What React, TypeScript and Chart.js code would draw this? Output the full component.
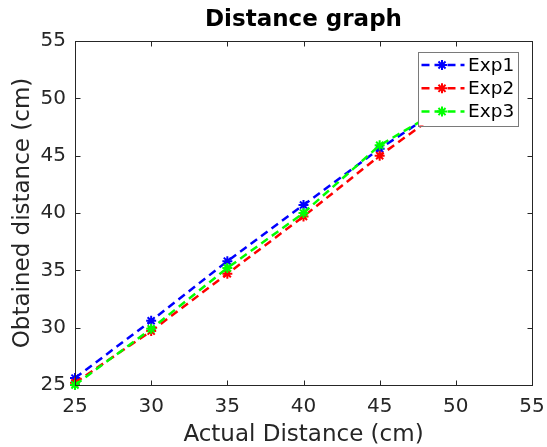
import React, { useEffect, useRef } from "react";
import { Chart, registerables } from "chart.js";

Chart.register(...registerables);

const actualDistance = [25, 30, 35, 40, 45, 50];
const exp1 = [25.6, 30.6, 35.8, 40.7, 45.6, 50.0];
const exp2 = [25.2, 29.7, 34.7, 39.7, 45.0, 49.8];
const exp3 = [25.0, 29.9, 35.2, 40.0, 45.9, 49.8];
const seriesLabels = ["Exp1", "Exp2", "Exp3"];
const seriesColors = ["#0000ff", "#ff0000", "#00ff00"];
const axisMin = 25;
const axisMax = 55;
const tickStep = 5;

const TEXT = "#262626";
const FONT = "'DejaVu Sans', sans-serif";

function drawStar(ctx: CanvasRenderingContext2D, x: number, y: number, r: number) {
  ctx.beginPath();
  ctx.moveTo(x - r, y);
  ctx.lineTo(x + r, y);
  ctx.moveTo(x, y - r);
  ctx.lineTo(x, y + r);
  const d = r * Math.SQRT1_2;
  ctx.moveTo(x - d, y - d);
  ctx.lineTo(x + d, y + d);
  ctx.moveTo(x - d, y + d);
  ctx.lineTo(x + d, y - d);
  ctx.stroke();
}

const boxPlugin = {
  id: "matlabBox",
  afterDatasetsDraw(chart: any) {
    const { ctx, chartArea: a, scales } = chart;
    ctx.save();
    ctx.strokeStyle = TEXT;
    ctx.lineWidth = 1;
    ctx.setLineDash([]);
    const L = Math.round(a.left) + 0.5;
    const R = Math.round(a.right) + 0.5;
    const T = Math.round(a.top) + 0.5;
    const B = Math.round(a.bottom) + 0.5;
    ctx.strokeRect(L, T, R - L, B - T);
    const tl = 5;
    ctx.beginPath();
    scales.x.ticks.forEach((t: any) => {
      const px = Math.round(scales.x.getPixelForValue(t.value)) + 0.5;
      ctx.moveTo(px, B);
      ctx.lineTo(px, B - tl);
      ctx.moveTo(px, T);
      ctx.lineTo(px, T + tl);
    });
    scales.y.ticks.forEach((t: any) => {
      const py = Math.round(scales.y.getPixelForValue(t.value)) + 0.5;
      ctx.moveTo(L, py);
      ctx.lineTo(L + tl, py);
      ctx.moveTo(R, py);
      ctx.lineTo(R - tl, py);
    });
    ctx.stroke();
    ctx.restore();
  },
  afterDraw(chart: any) {
    const { ctx, chartArea: a } = chart;
    const w = 100;
    const h = 74;
    const left = a.right - 14 - w;
    const top = a.top + 10.5;
    ctx.save();
    ctx.fillStyle = "#ffffff";
    ctx.fillRect(left, top, w, h);
    ctx.strokeStyle = "#7a7a7a";
    ctx.lineWidth = 1;
    ctx.strokeRect(Math.round(left) + 0.5, Math.round(top) + 0.5, w, h);
    chart.data.datasets.forEach((ds: any, i: number) => {
      const cy = top + 13.5 + i * 23.3;
      ctx.strokeStyle = ds.borderColor;
      ctx.lineWidth = 2.5;
      ctx.setLineDash([8, 5]);
      ctx.lineDashOffset = 0;
      ctx.beginPath();
      ctx.moveTo(left + 3.5, cy);
      ctx.lineTo(left + 46.5, cy);
      ctx.stroke();
      ctx.setLineDash([]);
      ctx.lineWidth = 2;
      drawStar(ctx, left + 24, cy, 5);
      ctx.fillStyle = "#000000";
      ctx.font = `18.5px ${FONT}`;
      ctx.textAlign = "left";
      ctx.textBaseline = "middle";
      ctx.fillText(ds.label, left + 50, cy + 1);
    });
    ctx.restore();
  },
};

export default function App() {
  const ref = useRef<HTMLCanvasElement | null>(null);
  useEffect(() => {
    if (!ref.current) return;
    const series = [exp1, exp2, exp3];
    const chart = new Chart(ref.current, {
      type: "line",
      data: {
        datasets: series.map((vals, i) => ({
          label: seriesLabels[i],
          data: actualDistance.map((x, j) => ({ x, y: vals[j] })),
          borderColor: seriesColors[i],
          backgroundColor: seriesColors[i],
          borderWidth: 2.5,
          borderDash: [8, 5],
          pointStyle: "star",
          pointRadius: 5,
          pointBorderWidth: 2,
          pointBorderColor: seriesColors[i],
          pointHoverRadius: 5,
          fill: false,
          tension: 0,
          clip: false,
          order: 2 - i,
        })),
      },
      options: {
        animation: false,
        responsive: true,
        maintainAspectRatio: false,
        events: [],
        layout: { padding: { left: 0, right: 15, top: 0, bottom: 0 } },
        plugins: {
          legend: { display: false },
          tooltip: { enabled: false },
          title: {
            display: true,
            text: "Distance graph",
            fullSize: false,
            color: "#000000",
            font: { family: FONT, size: 23, weight: "bold", lineHeight: 1.2 },
            padding: { top: 6, bottom: 7.4 },
          },
        },
        scales: {
          x: {
            type: "linear",
            min: axisMin,
            max: axisMax,
            ticks: {
              stepSize: tickStep,
              color: TEXT,
              font: { family: FONT, size: 20, lineHeight: 1 },
              padding: 12,
            },
            grid: { display: false, drawTicks: false },
            border: { display: false },
            title: {
              display: true,
              text: "Actual Distance (cm)",
              color: TEXT,
              font: { family: FONT, size: 23, lineHeight: 1 },
              padding: { top: 0, bottom: 0 },
            },
            afterFit: (s: any) => {
              s.height = 62;
              s.paddingLeft = 0;
              s.paddingRight = 0;
            },
          },
          y: {
            type: "linear",
            min: axisMin,
            max: axisMax,
            ticks: {
              stepSize: tickStep,
              color: TEXT,
              font: { family: FONT, size: 20, lineHeight: 1 },
              padding: 9,
            },
            grid: { display: false, drawTicks: false },
            border: { display: false },
            title: {
              display: true,
              text: "Obtained distance (cm)",
              color: TEXT,
              font: { family: FONT, size: 23, lineHeight: 1 },
              padding: { top: 11.5, bottom: 0 },
            },
            afterFit: (s: any) => {
              s.width = 75;
              s.paddingTop = 0;
              s.paddingBottom = 0;
            },
          },
        },
      },
      plugins: [boxPlugin],
    } as any);
    return () => chart.destroy();
  }, []);
  return (
    <div style={{ position: "fixed", left: 0, top: 0, width: 547, height: 447, background: "#ffffff" }}>
      <canvas ref={ref} />
    </div>
  );
}
